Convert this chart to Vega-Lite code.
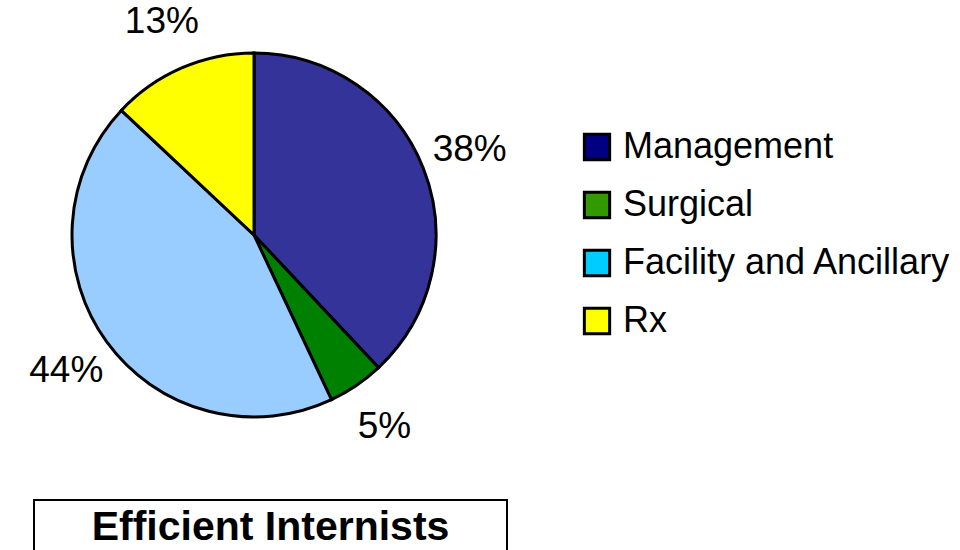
{
  "$schema": "https://vega.github.io/schema/vega-lite/v6.json",
  "autosize": {"type": "pad"},
  "padding": {"left": 29, "top": 0, "right": 0, "bottom": 0},
  "background": "white",
  "config": {"view": {"stroke": null}, "font": "Liberation Sans"},
  "spacing": 29,
  "vconcat": [
    {
      "width": 440,
      "height": 470,
      "data": {"values": [
        {"category": "Management", "share": 38, "label": "38%", "order": 1},
        {"category": "Surgical", "share": 5, "label": "5%", "order": 2},
        {"category": "Facility and Ancillary", "share": 44, "label": "44%", "order": 3},
        {"category": "Rx", "share": 13, "label": "13%", "order": 4}
      ]},
      "encoding": {
        "theta": {"field": "share", "type": "quantitative", "stack": true},
        "order": {"field": "order", "type": "quantitative"}
      },
      "layer": [
        {
          "mark": {"type": "arc", "outerRadius": 182, "stroke": "black", "strokeWidth": 3},
          "encoding": {
            "color": {"field": "category", "type": "nominal",
              "scale": {"domain": ["Management", "Surgical", "Facility and Ancillary", "Rx"], "range": ["#333399", "#008000", "#99CCFF", "#FFFF00"]},
              "legend": null}
          }
        },
        {
          "mark": {"type": "arc", "outerRadius": 182, "opacity": 0},
          "encoding": {
            "color": {"field": "category", "type": "nominal",
              "scale": {"domain": ["Management", "Surgical", "Facility and Ancillary", "Rx"], "range": ["#000080", "#339900", "#00CCFF", "#FFFF00"]},
              "legend": {"title": null, "orient": "none", "legendX": 545, "legendY": 129, "padding": 0,
                "symbolType": "square", "symbolSize": 640, "symbolStrokeColor": "black", "symbolStrokeWidth": 3, "symbolOpacity": 1, "symbolFillOpacity": 1,
                "labelFont": "Liberation Sans", "labelFontSize": 36, "labelColor": "black", "labelLimit": 0, "labelOffset": 8, "rowPadding": 20}}
          }
        },
        {
          "mark": {"type": "text", "radius": 232, "fontSize": 37, "font": "Liberation Sans", "color": "black"},
          "encoding": {"text": {"field": "label", "type": "nominal"}}
        }
      ],
      "resolve": {"scale": {"color": "independent"}}
    },
    {
      "width": 473,
      "height": 56,
      "view": {"stroke": "black", "strokeWidth": 2},
      "data": {"values": [{"title": "Efficient Internists"}]},
      "mark": {"type": "text", "font": "Liberation Sans", "fontSize": 41, "fontWeight": "bold", "color": "black"},
      "encoding": {"text": {"field": "title", "type": "nominal"}}
    }
  ]
}
